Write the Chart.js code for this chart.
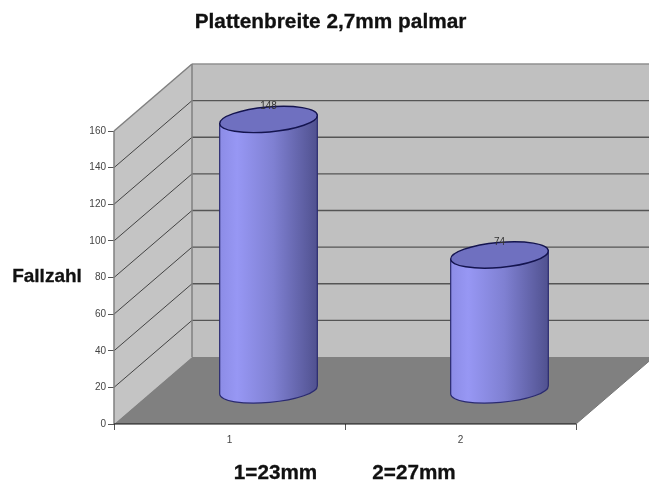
<!DOCTYPE html>
<html>
<head>
<meta charset="utf-8">
<title>Plattenbreite</title>
<script src="https://cdn.jsdelivr.net/npm/chart.js@4"></script>
<style>
  html, body { margin: 0; padding: 0; background: #fff; }
  canvas { display: block; }
</style>
</head>
<body>
<canvas id="chart" width="649" height="487"></canvas>
<script>
const categories = ['1', '2'];
const fallzahl = [148, 74];
const yTicks = [0, 20, 40, 60, 80, 100, 120, 140, 160];
const titleText = 'Plattenbreite 2,7mm palmar';
const yAxisText = 'Fallzahl';
const xCaptions = ['1=23mm', '2=27mm'];

// Tiefe der 3D-Darstellung
const depthX = 78;
const depthY = 67;

const poly = (ctx, pts, fill) => {
  ctx.beginPath();
  pts.forEach((p, i) => i ? ctx.lineTo(p[0], p[1]) : ctx.moveTo(p[0], p[1]));
  ctx.closePath();
  ctx.fillStyle = fill;
  ctx.fill();
};

// Wände und Boden
const wallsPlugin = {
  id: 'walls',
  beforeDatasetsDraw(chart) {
    const { ctx, chartArea: a, scales: { y } } = chart;
    ctx.save();
    poly(ctx, [[a.left + depthX, a.top - depthY], [a.right + depthX, a.top - depthY],
      [a.right + depthX, a.bottom - depthY], [a.left + depthX, a.bottom - depthY]], '#c0c0c0');
    poly(ctx, [[a.left, a.top], [a.left + depthX, a.top - depthY],
      [a.left + depthX, a.bottom - depthY], [a.left, a.bottom]], '#c4c4c4');
    poly(ctx, [[a.left, a.bottom], [a.left + depthX, a.bottom - depthY],
      [a.right + depthX, a.bottom - depthY], [a.right, a.bottom]], '#808080');

    yTicks.forEach(v => {
      if (v === 0) return;
      const py = y.getPixelForValue(v);
      ctx.beginPath();
      ctx.moveTo(a.left, py);
      ctx.lineTo(a.left + depthX, py - depthY);
      ctx.strokeStyle = v === 160 ? '#808080' : '#222';
      ctx.lineWidth = v === 160 ? 1.5 : 0.8;
      ctx.stroke();
      ctx.beginPath();
      ctx.moveTo(a.left + depthX, py - depthY);
      ctx.lineTo(a.right + depthX, py - depthY);
      ctx.strokeStyle = v === 160 ? '#909090' : '#555';
      ctx.lineWidth = v === 160 ? 1.5 : 1.3;
      ctx.stroke();
    });

    ctx.strokeStyle = '#808080';
    ctx.lineWidth = 1.5;
    ctx.beginPath();
    ctx.moveTo(a.left + depthX, a.top - depthY);
    ctx.lineTo(a.left + depthX, a.bottom - depthY);
    ctx.moveTo(a.left, a.bottom);
    ctx.lineTo(a.left, a.top);
    ctx.stroke();

    ctx.strokeStyle = '#777';
    ctx.lineWidth = 1;
    ctx.beginPath();
    ctx.moveTo(a.right, a.bottom);
    ctx.lineTo(a.right + depthX, a.bottom - depthY);
    ctx.stroke();

    ctx.strokeStyle = '#111';
    ctx.lineWidth = 1.2;
    ctx.beginPath();
    ctx.moveTo(a.left, a.bottom);
    ctx.lineTo(a.right, a.bottom);
    ctx.stroke();
    ctx.restore();
  }
};

// Zylinder aus den Balken-Elementen
const cylinderPlugin = {
  id: 'cylinders',
  afterDatasetsDraw(chart) {
    const { ctx } = chart;
    const meta = chart.getDatasetMeta(0);
    meta.data.forEach((bar, i) => {
      const cx = bar.x + depthX / 2;
      const rx = bar.width / 2;
      const ry = 12.5;
      const rot = -0.087;
      const topY = bar.y - depthY / 2;
      const baseY = bar.base - depthY / 2;
      const ex = rx * Math.cos(rot);
      const ey = rx * Math.sin(rot);

      const grad = ctx.createLinearGradient(cx - rx, 0, cx + rx, 0);
      grad.addColorStop(0, '#8c8ce6');
      grad.addColorStop(0.18, '#9797f4');
      grad.addColorStop(0.55, '#7f80d2');
      grad.addColorStop(1, '#50518f');

      ctx.save();
      ctx.beginPath();
      ctx.moveTo(cx - ex, topY - ey);
      ctx.lineTo(cx - ex, baseY - ey);
      ctx.ellipse(cx, baseY, rx, ry, rot, Math.PI, 0, true);
      ctx.lineTo(cx + ex, topY + ey);
      ctx.closePath();
      ctx.fillStyle = grad;
      ctx.fill();
      ctx.strokeStyle = '#2a2a70';
      ctx.lineWidth = 1.2;
      ctx.stroke();

      ctx.beginPath();
      ctx.ellipse(cx, topY, rx, ry, rot, 0, Math.PI * 2);
      ctx.fillStyle = '#6f70c0';
      ctx.fill();
      ctx.strokeStyle = '#14144f';
      ctx.lineWidth = 1.4;
      ctx.stroke();

      ctx.fillStyle = '#333';
      ctx.font = '10px "Liberation Sans"';
      ctx.textAlign = 'center';
      ctx.textBaseline = 'middle';
      ctx.fillText(String(fallzahl[i]), cx, topY - 13);
      ctx.restore();
    });
  }
};

// Titel und Beschriftungen
const textPlugin = {
  id: 'texts',
  afterDraw(chart) {
    const { ctx } = chart;
    const label = (text, x, y, size) => {
      ctx.font = `bold ${size}px "Liberation Sans"`;
      ctx.fillText(text, x, y);
      ctx.strokeText(text, x, y);
    };
    ctx.save();
    ctx.fillStyle = '#111';
    ctx.strokeStyle = '#111';
    ctx.lineWidth = 0.3;
    ctx.textBaseline = 'middle';
    ctx.textAlign = 'center';
    label(titleText, 330.5, 22, 20.8);
    label(xCaptions[0], 275.5, 473, 20.7);
    label(xCaptions[1], 414, 473, 20.7);
    label(yAxisText, 47, 277, 19);
    ctx.restore();
  }
};

new Chart(document.getElementById('chart'), {
  type: 'bar',
  data: {
    labels: categories,
    datasets: [{
      data: fallzahl,
      backgroundColor: 'transparent',
      barThickness: 98
    }]
  },
  options: {
    responsive: false,
    animation: false,
    layout: { padding: { top: 131, right: 73, left: 0, bottom: 0 } },
    plugins: {
      legend: { display: false },
      tooltip: { enabled: false }
    },
    scales: {
      x: {
        afterFit: s => { s.height = 63; },
        grid: { drawOnChartArea: false, tickLength: 6, color: '#555' },
        border: { display: false },
        ticks: { color: '#444', font: { size: 10, family: 'Liberation Sans' }, padding: 4, maxRotation: 0 }
      },
      y: {
        min: 0,
        max: 160,
        afterFit: s => { s.width = 114; },
        afterBuildTicks: s => { s.ticks = yTicks.map(value => ({ value })); },
        grid: { drawOnChartArea: false, tickLength: 6, color: '#555' },
        border: { display: false },
        ticks: { color: '#444', font: { size: 10, family: 'Liberation Sans' }, padding: 2 }
      }
    }
  },
  plugins: [wallsPlugin, cylinderPlugin, textPlugin]
});
</script>
</body>
</html>
